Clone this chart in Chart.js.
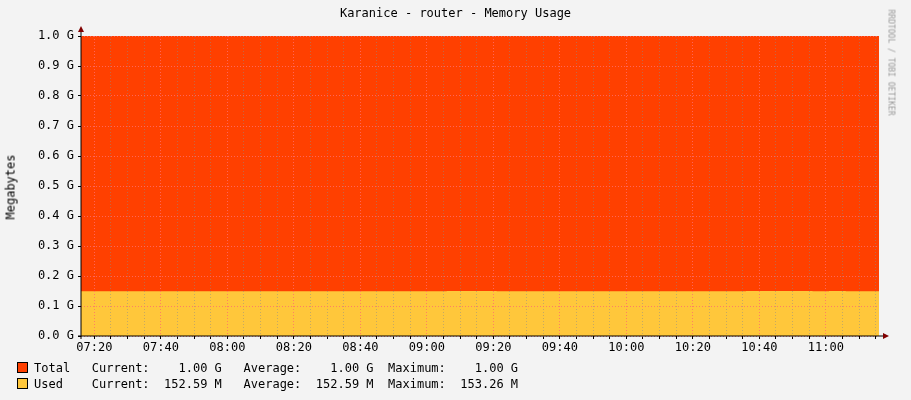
<!DOCTYPE html>
<html><head><meta charset="utf-8">
<script src="https://cdn.jsdelivr.net/npm/chart.js@4"></script>
<style>
body{margin:0;background:#f3f3f3;}
#wrap{position:relative;width:911px;height:400px;font-family:"DejaVu Sans Mono",monospace;font-size:12px;color:#000;}
canvas{position:absolute;left:0;top:0;}
.t{position:absolute;white-space:pre;}
.sw{display:inline-block;width:9px;height:9px;border:1px solid #000;vertical-align:-1px;margin-right:6px;}
</style></head><body>
<div id="wrap">
<canvas id="c" width="911" height="400"></canvas>
<div class="t" style="left:0;width:911px;top:6px;text-align:center;">Karanice - router - Memory Usage</div>
<div class="t" style="left:-22px;top:180px;transform:rotate(-90deg);">Megabytes</div>
<div class="t" style="left:838px;top:58px;transform:rotate(90deg);font-size:8px;color:#999;">RRDTOOL / TOBI OETIKER</div>
<div class="t" style="left:17px;top:361px;"><span class="sw" style="background:#ff4000"></span>Total   Current:    1.00 G   Average:    1.00 G  Maximum:    1.00 G</div>
<div class="t" style="left:17px;top:377px;"><span class="sw" style="background:#ffc73b"></span>Used    Current:  152.59 M   Average:  152.59 M  Maximum:  153.26 M</div>
</div>
<script>
const times=[436,441,446,451,456,461,466,471,476,481,486,491,496,501,506,511,516,521,526,531,536,541,546,551,556,561,566,571,576,581,586,591,596,601,606,611,616,621,626,631,636,641,646,651,656,661,666,671,676];
const usedG=[0.149,0.149,0.149,0.149,0.149,0.149,0.149,0.149,0.149,0.149,0.149,0.149,0.149,0.149,0.149,0.149,0.149,0.149,0.149,0.149,0.149,0.149,0.1497,0.1497,0.1497,0.149,0.1493,0.149,0.149,0.149,0.149,0.149,0.149,0.149,0.149,0.149,0.149,0.149,0.149,0.149,0.1497,0.1497,0.1497,0.1497,0.1495,0.1496,0.149,0.1493,0.1497];
const totalG=times.map(()=>1.0);
const yTicks=[0,0.1,0.2,0.3,0.4,0.5,0.6,0.7,0.8,0.9,1.0];
const pts=a=>times.map((t,i)=>({x:t,y:a[i]}));
const fmt=m=>String(Math.floor(m/60)).padStart(2,'0')+':'+String(m%60).padStart(2,'0');
const F={family:'DejaVu Sans Mono',size:12};
const arrows={id:'arrows',afterDraw(ch){const c=ch.ctx,a=ch.chartArea;c.save();c.fillStyle='#800000';c.strokeStyle='#000';
c.beginPath();c.moveTo(a.left-3,a.bottom);c.lineTo(a.right+5,a.bottom);c.moveTo(a.left,a.bottom+3);c.lineTo(a.left,a.top-5);c.stroke();
c.beginPath();c.moveTo(a.right+10,a.bottom);c.lineTo(a.right+4,a.bottom-3);c.lineTo(a.right+4,a.bottom+3);c.fill();
c.beginPath();c.moveTo(a.left,a.top-10);c.lineTo(a.left-3,a.top-4);c.lineTo(a.left+3,a.top-4);c.fill();c.restore();}};
new Chart(document.getElementById('c'),{type:'line',
data:{datasets:[
{label:'Used',data:pts(usedG),borderWidth:0,pointRadius:0,stepped:true,fill:'origin',backgroundColor:'#ffc73b'},
{label:'Total',data:pts(totalG),borderWidth:0,pointRadius:0,stepped:true,fill:'origin',backgroundColor:'#ff4000'}]},
options:{responsive:false,animation:false,layout:{padding:{top:36,right:32,left:0,bottom:0}},
plugins:{legend:{display:false},tooltip:{enabled:false}},
scales:{
x:{type:'linear',min:436,max:676,afterBuildTicks(s){s.ticks=[];for(let m=440;m<=675;m+=5)s.ticks.push({value:m});},
afterFit(s){s.height=64;},
ticks:{autoSkip:false,maxRotation:0,color:'#000',font:F,padding:2,callback:v=>v%20===0?fmt(v):''},
grid:{z:1,color:c=>c.tick&&c.tick.value%20===0?'rgba(255,110,110,0.8)':'rgba(140,140,140,0.5)',tickLength:3,tickColor:'#000'},
border:{dash:[1,2],display:false}},
y:{min:0,max:1,afterBuildTicks(s){s.ticks=yTicks.map(v=>({value:v}));},afterFit(s){s.width=81;},
ticks:{color:'#000',font:F,padding:4,callback:v=>v.toFixed(1)+' G'},
grid:{z:1,color:'rgba(255,110,110,0.8)',tickLength:3,tickColor:'#000'},border:{dash:[1,2],display:false}}}},
plugins:[arrows]});
</script></body></html>
